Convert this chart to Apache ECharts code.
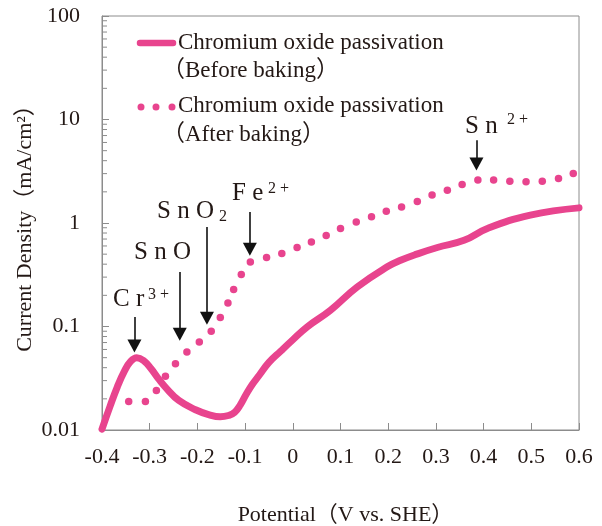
<!DOCTYPE html>
<html><head><meta charset="utf-8">
<script src="https://cdn.jsdelivr.net/npm/echarts@6/dist/echarts.min.js"></script>
<style>html,body{margin:0;padding:0;background:#fff}#c{width:602px;height:526px}</style>
</head><body><div id="c"></div>
<script>
// ---- data ----
const xTickLabels = ['-0.4','-0.3','-0.2','-0.1','0','0.1','0.2','0.3','0.4','0.5','0.6'];
const yTickLabels = ['0.01','0.1','1','10','100'];

const beforePotential = [-0.400,-0.383,-0.368,-0.353,-0.340,-0.327,-0.313,-0.297,-0.281,-0.264,-0.239,-0.204,-0.175,-0.152,-0.135,-0.122,-0.110,-0.098,-0.085,-0.070,-0.050,-0.025,-0.001,0.030,0.079,0.135,0.198,0.226,0.260,0.303,0.359,0.408,0.498,0.600];
const beforeCurrent   = [0.0102,0.017,0.026,0.037,0.046,0.050,0.047,0.039,0.031,0.025,0.0193,0.0157,0.0140,0.0134,0.0138,0.0148,0.0175,0.022,0.0275,0.034,0.045,0.058,0.0736,0.099,0.1435,0.241,0.377,0.436,0.50,0.58,0.68,0.885,1.19,1.40];

const afterPotential = [-0.344,-0.309,-0.286,-0.267,-0.246,-0.222,-0.196,-0.171,-0.152,-0.136,-0.124,-0.108,-0.089,-0.055,-0.023,0.009,0.039,0.070,0.100,0.133,0.165,0.196,0.228,0.261,0.292,0.324,0.355,0.388,0.421,0.455,0.489,0.523,0.557,0.588];
const afterCurrent   = [0.0189,0.0189,0.0241,0.033,0.0437,0.0567,0.0709,0.09,0.122,0.169,0.228,0.318,0.42,0.464,0.507,0.58,0.656,0.757,0.885,1.02,1.146,1.30,1.43,1.61,1.86,2.07,2.36,2.6,2.6,2.53,2.5,2.53,2.69,3.01];

const seriesNames = ['Chromium oxide passivation\n（Before baking）','Chromium oxide passivation\n（After baking）'];

const peakMain   = ['C r','S n O','S n O','F e','S n'];
const peakScript = ['3 +','','2','2 +','2 +'];
const arrowPotential = [-0.332,-0.237,-0.180,-0.090,0.385];
const arrowTop       = [0.1236,0.336,0.917,1.28,6.32];
const arrowEnd       = [0.0647,0.0841,0.12,0.558,3.71];

const xMin = -0.4, xMax = 0.6;
const yMin = 0.01, yMax = 100;

// ---- build ----
const PINK = '#e8448e';
const AX = '#8c8c8c';
const SERIF = "'Liberation Serif','Times New Roman','Noto Sans CJK JP',serif";
const TXT = '#231815';

const minorVals = [];
[0.01,0.1,1,10].forEach(d => { for (let k = 2; k <= 9; k++) minorVals.push(k*d); });

const chart = echarts.init(document.getElementById('c'), null, {renderer:'canvas'});

const arrowData = arrowPotential.map((x,i) => [{coord:[x, arrowTop[i]]},{coord:[x, arrowEnd[i]]}]);

// annotation text positions (pixels)
const labelPos = [[113,300,148,295],[134,253,0,0],[157,212,219,217],[232,194,268,189],[465,127,507,120]];
const graphics = [];
peakMain.forEach((t,i) => {
  const p = labelPos[i];
  graphics.push({type:'text', left:p[0], top:p[1]-13, silent:true,
    style:{text:t, font:'25px '+SERIF, fill:TXT}});
  if (peakScript[i]) graphics.push({type:'text', left:p[2], top:p[3]-8, silent:true,
    style:{text:peakScript[i], font:'16px '+SERIF, fill:TXT}});
});
// legend
const lg = seriesNames.map(s => s.split('\n'));
graphics.push({type:'line', shape:{x1:140,y1:43,x2:173,y2:43}, style:{stroke:PINK, lineWidth:6.5, lineCap:'round'}, silent:true});
[141,156,172].forEach(x => graphics.push({type:'circle', shape:{cx:x, cy:107, r:3.5}, style:{fill:PINK}, silent:true}));
graphics.push({type:'text', left:178, top:31, silent:true, style:{text:lg[0][0], font:'23px '+SERIF, fill:TXT}});
graphics.push({type:'text', left:162, top:59, silent:true, style:{text:lg[0][1], font:'23px '+SERIF, fill:TXT}});
graphics.push({type:'text', left:178, top:94, silent:true, style:{text:lg[1][0], font:'23px '+SERIF, fill:TXT}});
graphics.push({type:'text', left:162, top:123, silent:true, style:{text:lg[1][1], font:'23px '+SERIF, fill:TXT}});

chart.setOption({
  animation:false,
  backgroundColor:'#fff',
  grid:{left:102, right:23, top:16, bottom:96, containLabel:false, outerBoundsMode:'none',
    show:true, borderColor:AX, borderWidth:1, backgroundColor:'transparent'},
  xAxis:{
    type:'value', min:xMin, max:xMax, interval:0.1,
    name:'Potential（V vs. SHE）', nameLocation:'middle', nameGap:74,
    nameTextStyle:{fontFamily:SERIF, fontSize:22, color:TXT, padding:[0,0,0,10]},
    axisLine:{onZero:false, lineStyle:{color:AX}},
    axisTick:{inside:true, length:7, lineStyle:{color:AX}},
    splitLine:{show:false},
    axisLabel:{margin:16, fontFamily:SERIF, fontSize:22, color:TXT,
      formatter:v => xTickLabels[Math.round((v - xMin)*10)]}
  },
  yAxis:{
    type:'log', logBase:10, min:yMin, max:yMax,
    name:'Current Density（mA/cm²）', nameLocation:'middle', nameGap:66, nameRotate:90,
    nameMoveOverlap:false,
    nameTextStyle:{fontFamily:SERIF, fontSize:22, color:TXT},
    axisLine:{onZero:false, lineStyle:{color:AX}},
    axisTick:{inside:true, length:7, lineStyle:{color:AX}},
    minorTick:{show:false},
    splitLine:{show:false},
    axisLabel:{margin:22, fontFamily:SERIF, fontSize:22, color:TXT,
      formatter:v => yTickLabels[Math.round(Math.log10(v)) + 2]}
  },
  series:[
    {
      type:'custom', name:'minorTicks', silent:true, z:1,
      data:minorVals.map(v => [xMin, v]),
      renderItem:(params, api) => {
        const p = api.coord([api.value(0), api.value(1)]);
        return {type:'line', shape:{x1:p[0], y1:p[1], x2:p[0]+5, y2:p[1]}, style:{stroke:AX, lineWidth:1}};
      }
    },
    {
      type:'line', name:seriesNames[0],
      data:beforePotential.map((x,i) => [x, beforeCurrent[i]]),
      smooth:0.45, showSymbol:false, z:3,
      lineStyle:{color:PINK, width:7, cap:'round', join:'round'}
    },
    {
      type:'line', name:seriesNames[1],
      data:afterPotential.map((x,i) => [x, afterCurrent[i]]),
      symbol:'circle', symbolSize:7.5, showAllSymbol:true, z:4,
      itemStyle:{color:PINK},
      lineStyle:{width:0, opacity:0},
      markLine:{
        silent:true, animation:false,
        symbol:['none','triangle'], symbolSize:[14,13],
        lineStyle:{color:'#111', width:1.6, type:'solid'},
        label:{show:false},
        data:arrowData
      }
    }
  ],
  graphic:graphics
});
</script>
</body></html>
